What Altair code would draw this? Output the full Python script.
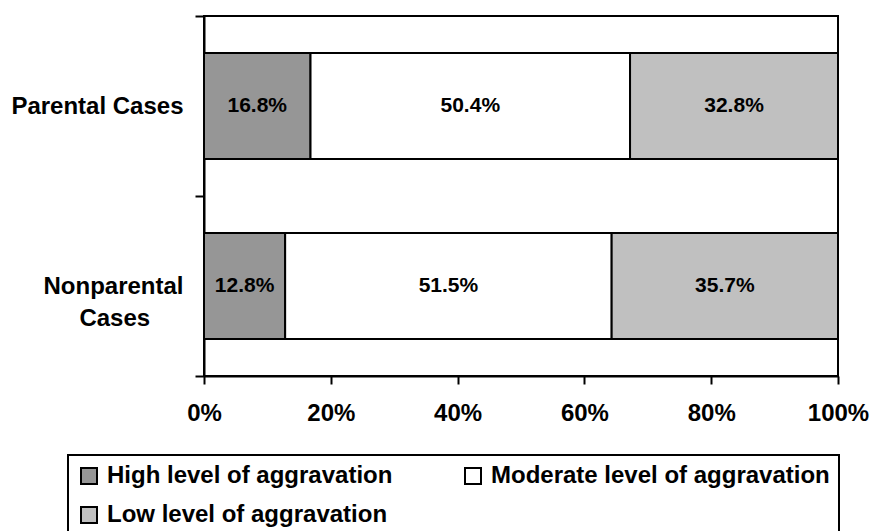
import altair as alt
import pandas as pd

# Case groups, aggravation levels and their fills
groups = ["Parental Cases", "Nonparental Cases"]
levels = [
    "High level of aggravation",
    "Moderate level of aggravation",
    "Low level of aggravation",
]
level_colors = ["#969696", "#ffffff", "#c0c0c0"]

# Percentage shares per group, in the order of `levels`
parental_shares = [16.8, 50.4, 32.8]
nonparental_shares = [12.8, 51.5, 35.7]

x_ticks = [0, 20, 40, 60, 80, 100]

# Build stacked segments (start / end / midpoint) for each group
rows = []
for group, shares in zip(groups, [parental_shares, nonparental_shares]):
    start = 0.0
    for i, (level, share) in enumerate(zip(levels, shares)):
        rows.append({
            "group": group,
            "level": level,
            "order": i,
            "share": share,
            "start": start,
            "end": start + share,
            "mid": start + share / 2,
            "label": f"{share:.1f}%",
        })
        start += share
df = pd.DataFrame(rows)

FONT = "Liberation Sans"
# non-breaking spaces keep the second line centred under the first
PAD = "\u00a0" * 5 + "\u200b"

y_axis = alt.Axis(
    title=None,
    tickBand="extent",
    tickSize=9,
    tickWidth=2,
    tickColor="black",
    domainColor="black",
    domainWidth=2,
    labelFont=FONT,
    labelFontSize=24,
    labelFontWeight="bold",
    labelColor="black",
    labelPadding=12,
    labelLimit=400,
    labelLineHeight=32,
    labelExpr=(
        "datum.label == 'Nonparental Cases' ? "
        f"['Nonparental', 'Cases{PAD}'] : datum.label"
    ),
)

x_axis = alt.Axis(
    title=None,
    values=x_ticks,
    labelExpr="datum.value + '%'",
    grid=False,
    tickSize=8,
    tickWidth=2,
    tickColor="black",
    domainColor="black",
    domainWidth=2,
    labelFont=FONT,
    labelFontSize=24,
    labelFontWeight="bold",
    labelColor="black",
    labelPadding=17,
    labelFlush=False,
    labelOverlap=False,
)

y_scale = alt.Scale(domain=groups, paddingInner=0, paddingOuter=0)
x_scale = alt.Scale(domain=[0, 100], nice=False)

bars = alt.Chart(df).mark_bar(
    stroke="black",
    strokeWidth=2,
    height=alt.RelativeBandSize(0.589),
    opacity=1,
).encode(
    y=alt.Y("group:N", sort=groups, scale=y_scale, axis=y_axis),
    x=alt.X("start:Q", scale=x_scale, axis=x_axis),
    x2="end:Q",
    fill=alt.Fill(
        "level:N",
        sort=levels,
        title=None,
        scale=alt.Scale(domain=levels, range=level_colors),
        legend=alt.Legend(
            orient="none",
            legendX=-136,
            legendY=439,
            direction="horizontal",
            columns=2,
            strokeColor="black",
            padding=9,
            symbolType="square",
            symbolSize=256,
            symbolStrokeColor="black",
            symbolStrokeWidth=2,
            symbolOpacity=1,
            labelFont=FONT,
            labelFontSize=24,
            labelFontWeight="bold",
            labelColor="black",
            labelOffset=6,
            labelLimit=400,
            columnPadding=68,
            rowPadding=15,
        ),
    ),
    order=alt.Order("order:Q"),
)

labels = alt.Chart(df).mark_text(
    font=FONT,
    fontSize=21,
    fontWeight="bold",
    color="black",
    baseline="middle",
    align="center",
).encode(
    y=alt.Y("group:N", sort=groups, scale=y_scale),
    x=alt.X("mid:Q", scale=x_scale),
    text="label:N",
)

chart = (
    alt.layer(bars, labels)
    .properties(
        width=634,
        height=360,
        autosize="none",
        padding={"left": 204, "top": 16, "right": 34, "bottom": 155},
        background="white",
    )
    .configure_view(stroke="black", strokeWidth=2)
    .configure_legend(strokeWidth=2)
)

chart.save("out.html", embed_options={"renderer": "svg", "actions": False})
